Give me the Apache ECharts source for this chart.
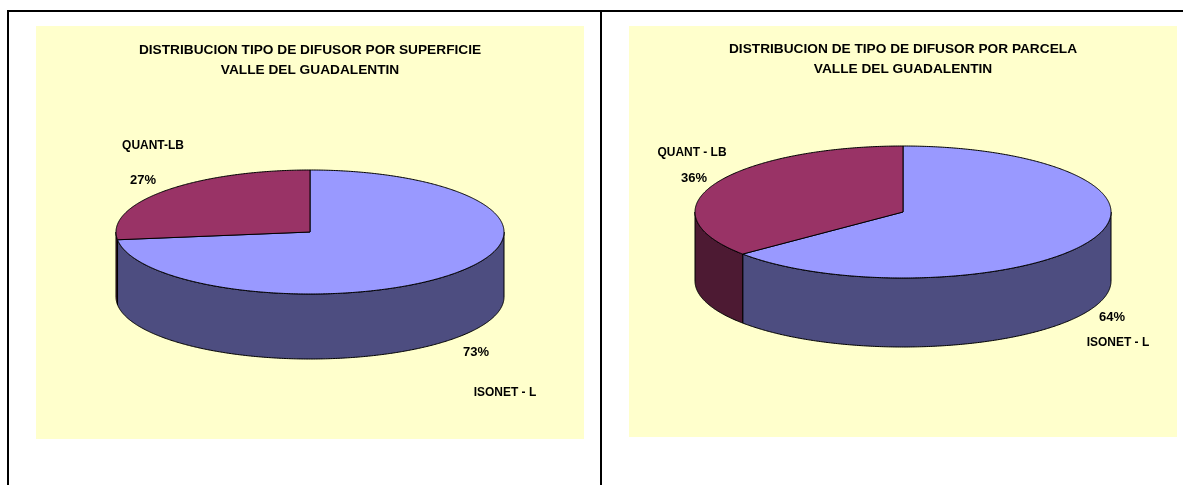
<!DOCTYPE html>
<html><head><meta charset="utf-8">
<style>html,body{margin:0;padding:0;background:#fff}#c{width:1183px;height:485px}</style>
<script src="https://cdn.jsdelivr.net/npm/echarts@6/dist/echarts.min.js"></script>
</head><body><div id="c"></div>
<script>
const surfaceCategories = ['ISONET - L', 'QUANT-LB'];
const surfaceValues = [73, 27];
const parcelCategories = ['ISONET - L', 'QUANT - LB'];
const parcelValues = [64, 36];
const surfaceTitle = 'DISTRIBUCION TIPO DE DIFUSOR POR SUPERFICIE\nVALLE DEL GUADALENTIN';
const parcelTitle = 'DISTRIBUCION DE TIPO DE DIFUSOR POR PARCELA\nVALLE DEL GUADALENTIN';

const topColors = ['#9999ff', '#993366'];
const wallColors = ['#4d4d80', '#4d1a33'];
const FONT = '"Liberation Sans", Arial, sans-serif';

function sample(g, a0, a1, dy) {
  const pts = [], n = Math.max(1, Math.ceil((a1 - a0) / 0.5));
  for (let i = 0; i <= n; i++) {
    const a = (a0 + (a1 - a0) * i / n) * Math.PI / 180;
    pts.push([g.cx + g.rx * Math.sin(a), g.cy - g.ry * Math.cos(a) + dy]);
  }
  return pts;
}

function pie3d(cats, vals, g, labels) {
  const total = vals.reduce((s, v) => s + v, 0);
  const data = [];
  let acc = 0;
  vals.forEach((v, i) => { data.push([acc / total * 360, (acc + v) / total * 360, i, v]); acc += v; });
  return {
    type: 'custom', coordinateSystem: 'none', silent: true, animation: false, clip: false,
    data: data,
    renderItem(params, api) {
      const a0 = api.value(0), a1 = api.value(1), i = api.value(2), v = api.value(3);
      const children = [];
      const w0 = Math.max(a0, 90), w1 = Math.min(a1, 270);
      const line = { stroke: '#000', lineWidth: 1 };
      if (w1 > w0) {
        const front = sample(g, w0, w1, 0);
        const back = sample(g, w0, w1, g.depth).reverse();
        children.push({ type: 'polygon', z2: 1, shape: { points: front.concat(back) },
          style: Object.assign({ fill: wallColors[i] }, line) });
      }
      const rim = sample(g, a0, a1, 0);
      children.push({ type: 'polygon', z2: 2, shape: { points: [[g.cx, g.cy]].concat(rim) },
        style: Object.assign({ fill: topColors[i] }, line) });
      const l = labels[i];
      const txt = (t, p, sx) => ({ type: 'text', z2: 5, x: p[0], y: p[1], scaleX: sx,
        style: { text: t, fill: '#000', font: 'bold 13px ' + FONT, textAlign: 'center', textVerticalAlign: 'middle' } });
      children.push(txt(cats[i], l.name, 0.92));
      children.push(txt(Math.round(v / total * 100) + '%', l.pct, 1));
      return { type: 'group', children };
    }
  };
}

const titleStyle = { fontFamily: FONT, fontSize: 13.7, fontWeight: 'bold', color: '#000', lineHeight: 20 };
const option = {
  backgroundColor: '#fff',
  animation: false,
  title: [
    { text: surfaceTitle, left: 310, top: 40, textAlign: 'center', padding: 0, textStyle: titleStyle },
    { text: parcelTitle, left: 903, top: 39, textAlign: 'center', padding: 0, textStyle: titleStyle }
  ],
  graphic: [
    { type: 'rect', z: -10, silent: true, shape: { x: 36, y: 26, width: 548, height: 413 }, style: { fill: '#ffffcc' } },
    { type: 'rect', z: -10, silent: true, shape: { x: 629, y: 26, width: 548, height: 411 }, style: { fill: '#ffffcc' } },
    { type: 'rect', z: -9, silent: true, shape: { x: 7, y: 10, width: 1176, height: 2 }, style: { fill: '#000' } },
    { type: 'rect', z: -9, silent: true, shape: { x: 7, y: 10, width: 2, height: 475 }, style: { fill: '#000' } },
    { type: 'rect', z: -9, silent: true, shape: { x: 600, y: 10, width: 2, height: 475 }, style: { fill: '#000' } }
  ],
  series: [
    pie3d(surfaceCategories, surfaceValues, { cx: 310, cy: 232, rx: 194, ry: 62, depth: 65 },
      [{ name: [505, 392], pct: [476, 352] }, { name: [153, 145], pct: [143, 180] }]),
    pie3d(parcelCategories, parcelValues, { cx: 903, cy: 212, rx: 208, ry: 66, depth: 69 },
      [{ name: [1118, 342], pct: [1112, 317] }, { name: [692, 152], pct: [694, 178] }])
  ]
};
echarts.init(document.getElementById('c'), null, { renderer: 'canvas' }).setOption(option);
</script></body></html>
